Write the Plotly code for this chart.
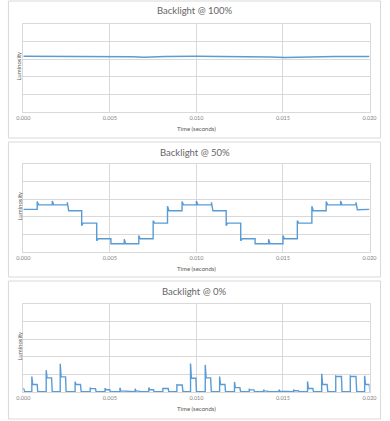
import plotly.graph_objects as go

# ---------------- data ----------------
TITLES = ["Backlight @ 100%", "Backlight @ 50%", "Backlight @ 0%"]
X_TITLE = "Time (seconds)"
Y_TITLE = "Luminosity"
TICK_VALS = [0.000, 0.005, 0.010, 0.015, 0.020]
TICK_TEXT = ["0.000", "0.005", "0.010", "0.015", "0.020"]

# 100% backlight: nearly flat
t100 = [0.0, 0.002, 0.005, 0.0063, 0.0070, 0.0076, 0.0082, 0.010, 0.012, 0.0143, 0.0151, 0.0157, 0.0165, 0.018, 0.020]
y100 = [3.17, 3.17, 3.16, 3.14, 3.11, 3.13, 3.16, 3.17, 3.17, 3.13, 3.09, 3.10, 3.15, 3.16, 3.16]

# 50% backlight: stepped waveform (step time, overshoot peak, settled level)
start50 = 2.42
t50 = [0.00080, 0.00167, 0.00254, 0.00337, 0.00424, 0.00506, 0.00583, 0.00667, 0.00750, 0.00833,
       0.00917, 0.01000, 0.01087, 0.01172, 0.01256, 0.01339, 0.01417, 0.01500, 0.01583, 0.01667,
       0.01750, 0.01833, 0.01922]
pk50 = [2.87, 2.90, 2.82, 1.49, 0.64, 0.47, 0.72, 0.94, 1.78, 2.60,
        2.87, 2.90, 2.82, 1.49, 0.64, 0.47, 0.72, 0.94, 1.78, 2.60,
        2.87, 2.90, 2.82]
lv50 = [2.68, 2.68, 2.34, 1.64, 0.75, 0.47, 0.47, 0.75, 1.64, 2.34,
        2.68, 2.68, 2.34, 1.64, 0.75, 0.47, 0.47, 0.75, 1.64, 2.34,
        2.68, 2.68, 2.40]
end50 = 2.42

# 0% backlight: PWM pulses (start time, leading spike, plateau, width)
base0 = 0.02
t0 = [0.00049, 0.00132, 0.00213, 0.00299, 0.00386, 0.00472, 0.00558, 0.00646, 0.00725, 0.00806,
      0.00887, 0.00966, 0.01051, 0.01134, 0.01220, 0.01305, 0.01388, 0.01477, 0.01562, 0.01642,
      0.01724, 0.01805, 0.01889, 0.01972]
pk0 = [0.88, 1.24, 1.60, 0.58, 0.24, 0.22, 0.24, 0.18, 0.26, 0.20,
       0.41, 1.62, 1.54, 0.88, 0.57, 0.18, 0.13, 0.13, 0.14, 0.60,
       1.04, 0.90, 0.90, 0.92]
pl0 = [0.43, 0.80, 0.86, 0.43, 0.19, 0.13, 0.06, 0.05, 0.13, 0.20,
       0.40, 0.78, 0.80, 0.43, 0.25, 0.12, 0.05, 0.05, 0.07, 0.20,
       0.43, 0.88, 0.88, 0.43]
w0 = [0.00034, 0.00034, 0.00034, 0.00034, 0.00034, 0.00030, 0.00025, 0.00025, 0.00030, 0.00034,
      0.00034, 0.00034, 0.00034, 0.00034, 0.00034, 0.00030, 0.00025, 0.00025, 0.00030, 0.00034,
      0.00034, 0.00036, 0.00036, 0.00030]
first0 = 0.22

# ---------------- build traces ----------------
LINE = "#5B9BD5"
GRID = "#D9D9D9"
TXT = "#595959"
FONT = "Lato"

xs50, ys50 = [0.0], [start50]
prev = start50
for t, p, l in zip(t50, pk50, lv50):
    xs50 += [t, t, t + 0.00008]
    ys50 += [prev, p, l]
    prev = l
xs50.append(0.020)
ys50.append(end50)

xs0, ys0 = [0.0, 0.00008], [first0, base0]
for t, p, l, w in zip(t0, pk0, pl0, w0):
    xs0 += [t, t, t + 0.00005, t + w - 0.00003, t + w, t + w + 0.00001]
    ys0 += [base0, p, l, l, base0, base0]
xs0.append(0.020)
ys0.append(base0)

fig = go.Figure()
fig.add_trace(go.Scatter(x=t100, y=y100, mode="lines", line=dict(color=LINE, width=1.5), xaxis="x", yaxis="y"))
fig.add_trace(go.Scatter(x=xs50, y=ys50, mode="lines", line=dict(color=LINE, width=1.4), xaxis="x2", yaxis="y2"))
fig.add_trace(go.Scatter(x=xs0, y=ys0, mode="lines", line=dict(color=LINE, width=1.4), xaxis="x3", yaxis="y3"))

W, H = 390, 421
def py(px):
    return 1 - px / H

XD = [17 / W, 377 / W]
panels = [  # (plot top px, plot bottom px, panel top, panel bottom)
    (24, 112, 1, 138),
    (164, 252, 142, 277),
    (304, 392, 281, 419),
]

layout = dict(
    width=W, height=H, margin=dict(l=0, r=0, t=0, b=0),
    paper_bgcolor="white", plot_bgcolor="white", showlegend=False,
    font=dict(family=FONT, color=TXT),
)
shapes, annotations = [], []
for i, (top, bot, ptop, pbot) in enumerate(panels):
    sx = "" if i == 0 else str(i + 1)
    layout["xaxis" + sx] = dict(
        domain=XD, anchor="y" + sx, range=[0, 0.020], tickvals=TICK_VALS, ticktext=TICK_TEXT,
        showgrid=True, gridcolor=GRID, gridwidth=1, zeroline=False,
        showline=True, linecolor=GRID, mirror=True, ticks="",
        tickfont=dict(size=5.5, color="#7F7F7F", family=FONT),
    )
    layout["yaxis" + sx] = dict(
        domain=[py(bot), py(top)], anchor="x" + sx, range=[0, 5], dtick=1,
        showgrid=True, gridcolor=GRID, gridwidth=1, zeroline=False,
        showline=True, linecolor=GRID, mirror=True, showticklabels=False, ticks="",
    )
    shapes.append(dict(type="rect", xref="paper", yref="paper", x0=1.5 / W, x1=388.5 / W,
                       y0=py(pbot), y1=py(ptop), line=dict(color=GRID, width=1), layer="below"))
    annotations.append(dict(text=TITLES[i], xref="paper", yref="paper", x=195 / W, y=py(ptop + 10),
                            xanchor="center", yanchor="middle", showarrow=False,
                            font=dict(size=9.5, color="#666666", family=FONT)))
    annotations.append(dict(text=X_TITLE, xref="paper", yref="paper", x=197 / W, y=py(top + 104),
                            xanchor="center", yanchor="middle", showarrow=False,
                            font=dict(size=6, color=TXT, family=FONT)))
    annotations.append(dict(text=Y_TITLE, xref="paper", yref="paper", x=12 / W, y=py(top + 42),
                            xanchor="center", yanchor="middle", showarrow=False, textangle=-90,
                            font=dict(size=6, color=TXT, family=FONT)))
layout["shapes"] = shapes
layout["annotations"] = annotations
fig.update_layout(**layout)
fig.write_html("out.html")
